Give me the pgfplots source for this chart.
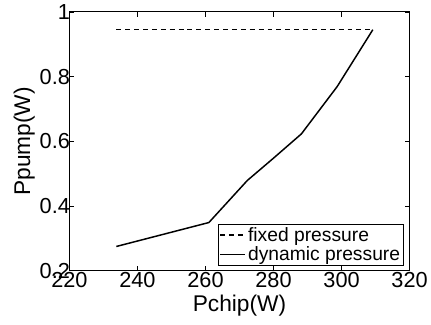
\documentclass[border=0pt]{standalone}
\usepackage{fontspec}
\setmainfont{Liberation Sans}
\usepackage{pgfplots}
\pgfplotsset{compat=1.18}
\begin{document}
\begin{tikzpicture}
\begin{axis}[
  scale only axis,
  width=343bp, height=261bp,
  xmin=220, xmax=320, ymin=0.2, ymax=1,
  xtick={220,240,...,320},
  ytick={0.2,0.4,...,1.0},
  yticklabels={0.2,0.4,0.6,0.8,1},
  tick align=inside,
  major tick length=5bp,
  axis line style={line width=0.9pt},
  tick style={line width=0.7pt, black},
  /pgf/number format/assume math mode=true,
  xticklabel style={font=\fontsize{22}{25}\selectfont, yshift=2bp},
  yticklabel style={font=\fontsize{22}{25}\selectfont, xshift=4bp},
  xlabel={Pchip(W)},
  ylabel={Ppump(W)},
  xlabel style={font=\fontsize{23}{26}\selectfont, yshift=-1bp},
  ylabel style={font=\fontsize{23}{26}\selectfont, yshift=-2bp},
  legend style={font=\fontsize{19.5}{21}\selectfont, at={(0.982,0.02)}, anchor=south east, draw=black, line width=0.7pt, inner sep=1pt, row sep=0pt},
  legend cell align=left,
  legend image code/.code={\draw[#1, line width=1.5pt] (0cm,0cm) -- (0.9cm,0cm);},
]
\addplot[black, line width=1.5pt, dash pattern=on 5pt off 4pt] coordinates {(233.8,0.945) (309.2,0.945)};
\addlegendentry{fixed pressure}
\addplot[black, line width=1.5pt] coordinates {(233.8,0.275) (261.0,0.349) (272.3,0.479) (280,0.548) (288.2,0.623) (298.7,0.769) (309.2,0.945)};
\addlegendentry{dynamic pressure}
\end{axis}
\path ([xshift=-70bp,yshift=-54bp]current axis.south west) rectangle ([xshift=18bp,yshift=12bp]current axis.north east);
\end{tikzpicture}
\end{document}
